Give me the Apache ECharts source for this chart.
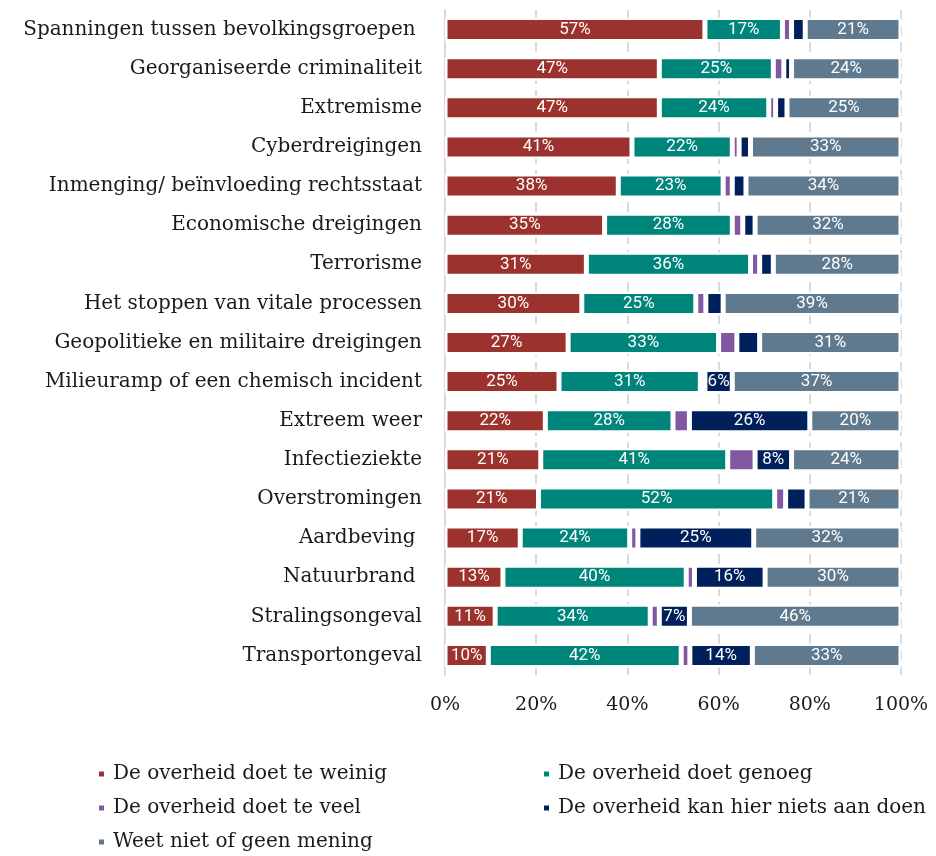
<!DOCTYPE html>
<html>
<head>
<meta charset="utf-8">
<script src="https://cdn.jsdelivr.net/npm/echarts@6/dist/echarts.min.js"></script>
<style>
  html, body { margin: 0; padding: 0; background: #fff; }
  #main { width: 936px; height: 856px; }
</style>
</head>
<body>
<div id="main"></div>
<script>
const categories = [
  'Spanningen tussen bevolkingsgroepen ',
  'Georganiseerde criminaliteit',
  'Extremisme',
  'Cyberdreigingen',
  'Inmenging/ beïnvloeding rechtsstaat',
  'Economische dreigingen',
  'Terrorisme',
  'Het stoppen van vitale processen',
  'Geopolitieke en militaire dreigingen',
  'Milieuramp of een chemisch incident',
  'Extreem weer',
  'Infectieziekte',
  'Overstromingen',
  'Aardbeving ',
  'Natuurbrand ',
  'Stralingsongeval',
  'Transportongeval'
]
// percentages per category (top to bottom)
const teWeinig = [57, 47, 47, 41, 38, 35, 31, 30, 27, 25, 22, 21, 20.5, 16.5, 12.7, 11, 9.5]
const genoeg   = [17, 25, 24, 22, 23, 28, 36, 25, 33, 31, 28, 41, 51.8, 24, 40.2, 34, 42.3]
const teVeel   = [2, 2.3, 1.5, 1.5, 2, 2.3, 2, 2.2, 4, 1, 3.6, 6, 2.4, 1.8, 1.8, 2, 1.9]
const nietsAan = [3, 1.7, 2.5, 2.5, 3, 2.7, 3, 3.8, 5, 6, 26.4, 8, 4.7, 25.4, 15.5, 6.6, 13.7]
const weetNiet = [21, 24, 25, 33, 34, 32, 28, 39, 31, 37, 20, 24, 20.6, 32.3, 29.8, 46.4, 32.6]
const xTicks = [0, 20, 40, 60, 80, 100]

const seriesNames = [
  'De overheid doet te weinig',
  'De overheid doet genoeg',
  'De overheid doet te veel',
  'De overheid kan hier niets aan doen',
  'Weet niet of geen mening'
]
const colors = ['#9b322d', '#00857a', '#7f58a1', '#00205b', '#5f7a8e']
const seriesData = [teWeinig, genoeg, teVeel, nietsAan, weetNiet]

const serif = '"DejaVu Serif", "Liberation Serif", serif'

const chart = echarts.init(document.getElementById('main'))

const series = seriesData.map((data, i) => ({
  name: seriesNames[i],
  type: 'bar',
  stack: 'total',
  barWidth: 24,
  data: data,
  itemStyle: { color: colors[i], borderColor: '#fff', borderWidth: 2.5 },
  label: {
    show: i !== 2,
    position: 'inside',
    color: '#fff',
    fontFamily: 'Roboto, sans-serif',
    fontSize: 17,
    formatter: p => (p.value >= 5.5 ? Math.round(p.value) + '%' : '')
  }
}))

// legend in two columns
const legendPos = [
  { left: 92, top: 758 },
  { left: 537, top: 758 },
  { left: 92, top: 792 },
  { left: 537, top: 792 },
  { left: 92, top: 826 }
]
const legends = seriesNames.map((name, i) => ({
  data: [name],
  left: legendPos[i].left,
  top: legendPos[i].top,
  icon: 'rect',
  itemWidth: 7,
  itemHeight: 7,
  itemGap: 6,
  textStyle: { fontFamily: serif, fontSize: 20, color: '#1a1a1a', lineHeight: 22, padding: [0, 0, 0, 3] }
}))

const option = {
  animation: false,
  grid: { left: 445, right: 35, top: 10, height: 665 },
  xAxis: {
    type: 'value',
    min: 0,
    max: 100,
    interval: 20,
    axisLine: { show: false },
    axisTick: { show: false },
    axisLabel: {
      formatter: v => (xTicks.includes(v) ? v + '%' : ''),
      fontFamily: serif,
      fontSize: 19,
      color: '#1a1a1a',
      margin: 21
    },
    splitLine: { lineStyle: { color: '#d9d9d9', width: 2, type: [10, 6] } }
  },
  yAxis: {
    type: 'category',
    inverse: true,
    data: categories,
    axisTick: { show: false },
    axisLine: { show: true, lineStyle: { color: '#d9d9d9', width: 2 } },
    axisLabel: { fontFamily: serif, fontSize: 20, color: '#1a1a1a', margin: 23 }
  },
  legend: legends,
  series: series
}

chart.setOption(option)
</script>
</body>
</html>
